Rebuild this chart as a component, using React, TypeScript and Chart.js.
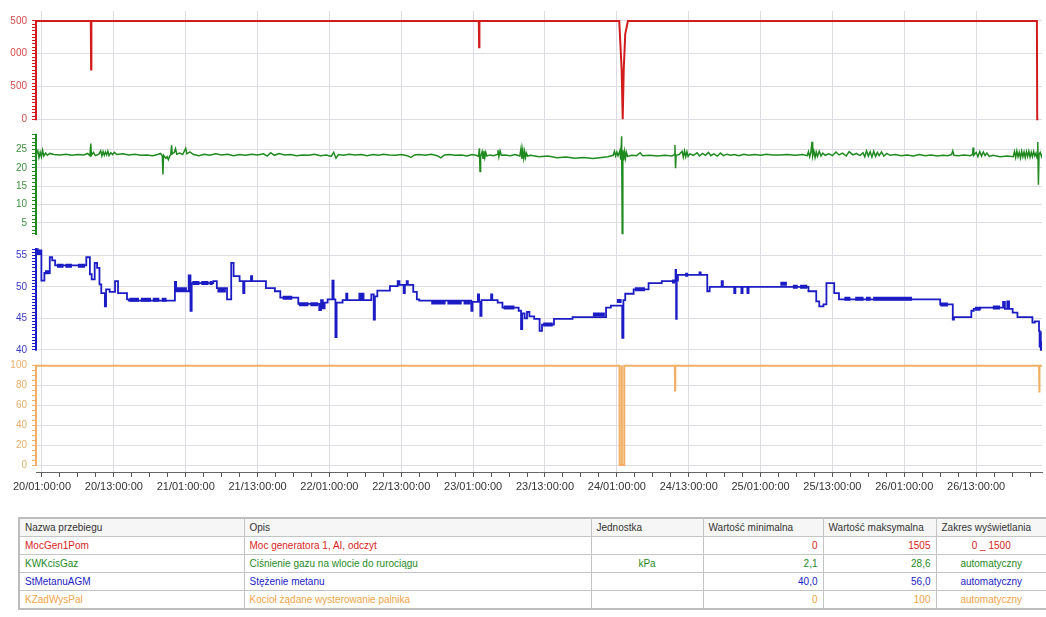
import React, { useEffect, useRef } from 'react';
import { Chart, registerables } from 'chart.js';

Chart.register(...registerables);

// ---------- time axis ----------
const FIRST_DAY = 20;
const TOTAL_HOURS = 168;
const majorTickHours = [1, 13, 25, 37, 49, 61, 73, 85, 97, 109, 121, 133, 145, 157];
const MINOR_STEP_H = 3;

// ---------- series (hour since 20/00:00, value) ----------
const redPoints: [number, number][] = [
  [0, 1500], [9.15, 1500], [9.2, 760], [9.25, 1500],
  [73.95, 1500], [74.0, 1100], [74.05, 1500],
  [97.4, 1500], [97.8, 760], [97.98, 0], [98.15, 760], [98.4, 1300], [98.85, 1500],
  [167.15, 1500], [167.2, 0], [167.4, 0],
];

const greenPoints: [number, number][] = [
  [0, 23.6], [0.3, 24.6], [0.5, 22.8], [0.7, 24.2], [0.9, 23.0], [1.1, 24.8], [1.3, 23.2], [1.6, 24.0], [1.9, 23.4], [2.3, 23.9],
  [3, 23.6], [4, 23.5], [5, 23.7], [6, 23.4], [7, 23.6], [8, 23.5], [8.6, 23.9], [9.0, 23.3], [9.15, 26.6], [9.25, 23.4], [9.6, 24.2], [9.9, 23.3],
  [10.5, 23.7], [10.8, 24.6], [11.0, 23.2], [11.2, 24.4], [11.4, 23.4], [11.6, 24.3], [11.8, 23.5], [12.0, 24.5], [12.2, 23.3], [12.5, 24.1], [12.8, 23.6], [13.1, 24.2], [13.5, 23.6],
  [14.5, 23.8], [15.5, 23.5], [16.5, 23.7], [17.5, 23.4], [18.5, 23.5], [19.5, 23.3], [20.3, 23.6], [20.8, 23.9], [21.1, 23.2], [21.2, 18.2], [21.3, 23.4], [21.7, 22.6], [21.9, 23.0], [22.1, 22.2], [22.3, 23.1], [22.5, 23.6], [22.65, 26.1], [22.75, 23.8],
  [23.1, 24.2], [23.3, 25.2], [23.5, 23.7], [24.0, 24.0], [24.5, 23.6], [25.0, 25.3], [25.2, 23.8], [25.7, 24.3], [26.3, 23.6],
  [27.2, 23.3], [28.1, 23.7], [29.0, 23.4], [30.0, 23.8], [31.0, 23.5], [32.0, 23.7], [33.0, 23.3], [34.0, 23.6], [35.0, 23.4], [36.0, 23.7], [37.0, 23.5], [38.0, 23.8], [38.6, 23.2], [39.2, 24.1], [39.8, 23.4], [40.6, 23.9],
  [41.5, 23.5], [42.5, 23.6], [43.5, 23.3], [44.5, 23.5], [45.5, 23.4], [46.5, 23.7], [47.5, 23.3], [48.5, 23.5], [49.3, 23.1], [49.7, 24.2], [50.1, 22.6], [50.5, 23.6], [51.3, 23.4], [52.3, 23.7], [53.3, 23.5], [54.3, 23.6], [55.3, 23.3], [56.3, 23.6],
  [57.2, 23.4], [58, 23.7], [59, 23.5], [60, 23.4], [61, 23.6], [62, 23.3], [62.6, 22.8], [63.2, 23.5], [64, 23.6], [65, 23.4], [66, 23.7], [67, 23.3], [67.6, 22.7], [68.2, 23.5], [69, 23.6], [70, 23.4], [71, 23.5], [72, 23.2], [72.8, 23.6], [73.5, 23.4],
  [73.9, 23.1], [74.05, 25.3], [74.15, 19.0], [74.25, 23.0], [74.5, 24.4], [74.65, 22.6], [74.8, 24.6], [74.95, 22.8], [75.1, 24.2], [75.3, 23.2], [75.8, 23.5], [76.4, 23.3], [77.0, 23.6], [77.15, 24.8], [77.3, 23.0], [77.5, 24.6], [77.7, 23.4],
  [78.3, 23.5], [79.2, 23.3], [80.0, 23.6], [80.8, 23.2], [81.0, 25.3], [81.15, 22.4], [81.3, 24.8], [81.45, 22.6], [81.6, 24.4], [81.75, 22.8], [81.9, 24.0], [82.1, 23.2], [82.6, 23.4],
  [84, 23.0], [85.5, 23.2], [87, 22.7], [88.5, 22.9], [90, 22.6], [91.5, 22.8], [93, 22.5], [94.5, 22.8], [95.5, 23.0], [96.4, 23.4], [96.6, 24.5], [96.8, 23.2], [97.0, 24.3], [97.2, 23.3],
  [97.5, 24.6], [97.65, 22.2], [97.8, 28.6], [97.9, 2.1], [98.0, 24.8], [98.15, 22.0], [98.3, 24.4], [98.45, 22.6], [98.6, 24.2], [98.8, 23.1],
  [99.5, 23.4], [100.3, 23.3], [100.9, 24.1], [101.3, 23.3], [102.5, 23.4], [103.8, 23.2], [105, 23.4], [106.2, 23.2], [106.6, 23.6], [106.7, 26.2], [106.8, 19.9], [106.9, 23.4],
  [107.4, 23.6], [107.9, 24.5], [108.1, 22.9], [108.3, 24.6], [108.5, 23.0], [108.7, 24.4], [108.9, 23.1], [109.2, 23.8], [109.8, 23.4], [110.4, 24.1], [110.8, 23.2], [111.3, 23.9], [111.8, 23.4], [112.3, 24.2], [112.7, 23.3], [113.2, 23.8], [113.8, 23.2], [114.3, 24.0], [114.8, 23.3], [115.4, 23.7], [116.0, 23.4],
  [116.6, 23.6], [117.4, 23.3], [118.2, 23.7], [119, 23.4], [120, 23.6], [121, 23.4], [122, 23.7], [123, 23.5], [124.3, 23.5], [125.5, 23.6], [126.8, 23.4], [128, 23.6], [128.8, 23.3],
  [129.0, 24.4], [129.2, 23.0], [129.4, 24.2], [129.6, 27.1], [129.7, 23.2], [129.9, 24.6], [130.1, 22.8], [130.3, 24.3], [130.5, 23.1], [130.8, 24.5], [131.1, 23.2], [131.4, 24.0], [131.8, 23.4],
  [132.4, 23.8], [133, 23.3], [133.6, 24.3], [134.1, 23.5], [134.7, 24.0], [135.3, 23.2], [135.8, 24.4], [136.4, 23.5], [137, 23.9], [137.6, 23.3],
  [138.1, 24.1], [138.4, 23.0], [138.7, 24.6], [139.0, 23.2], [139.3, 24.4], [139.6, 22.9], [139.9, 24.5], [140.2, 23.1], [140.5, 24.2], [140.8, 23.3], [141.2, 24.3], [141.6, 23.2], [142.1, 23.9], [142.6, 23.4],
  [143.5, 23.6], [144.5, 23.3], [145.5, 23.5], [146.5, 23.2], [147.5, 23.6], [148.5, 23.3], [149.5, 23.5], [150.5, 23.2], [151.5, 23.4], [152.3, 23.3], [152.9, 23.6], [153.1, 24.6], [153.3, 23.4],
  [154, 23.3], [155, 23.5], [156, 23.3], [156.4, 23.6], [156.5, 25.5], [156.6, 23.4], [157.0, 24.2], [157.3, 23.0], [157.6, 24.4], [157.9, 23.2], [158.2, 24.3], [158.5, 23.3], [158.8, 24.0], [159.2, 23.1], [159.8, 23.4],
  [161, 23.0], [162.2, 23.2], [163.2, 23.0], [163.4, 24.4], [163.6, 22.8], [163.8, 24.6], [164.0, 23.0], [164.2, 24.2], [164.4, 22.7], [164.6, 24.5], [164.8, 23.0], [165.0, 24.3], [165.2, 22.8], [165.4, 24.4], [165.6, 23.1], [165.8, 24.5], [166.0, 22.9], [166.2, 24.2], [166.4, 23.0], [166.6, 24.4], [166.8, 23.2], [167.0, 24.0],
  [167.2, 22.5], [167.3, 27.0], [167.4, 15.4], [167.5, 23.6], [167.7, 24.2], [167.9, 23.1], [168, 23.8],
];

// methane concentration, sample-and-hold (value holds until next point)
const bluePoints: [number, number][] = [
  [0, 56.0], [0.3, 55.2], [0.6, 55.8], [0.9, 51.0], [1.4, 52.2], [2.3, 54.7], [2.7, 54.2], [3.2, 53.4], [8.4, 54.7], [9.0, 52.0], [9.3, 51.2], [9.8, 53.8], [10.2, 53.0], [10.6, 50.4], [10.9, 49.0], [11.5, 46.9], [11.7, 49.6], [12.3, 49.2], [13.2, 50.9], [13.7, 49.0], [15.2, 48.0], [15.5, 47.8],
  [23.2, 50.8], [23.4, 49.3], [25.5, 51.8], [25.8, 46.2], [26.0, 50.6], [29.6, 50.9], [30.2, 49.8], [31.9, 48.0], [32.6, 53.8], [33.0, 51.7], [34.0, 50.9], [34.6, 49.0], [34.8, 50.9], [35.9, 51.7], [36.1, 50.9],
  [38.4, 49.8], [39.9, 49.3], [40.8, 48.3], [43.8, 47.3], [47.3, 46.3], [47.6, 47.9], [47.9, 46.6], [48.2, 47.5], [48.7, 48.0], [49.5, 51.0], [49.7, 48.0], [50.0, 42.0], [50.2, 47.5], [51.2, 47.9], [51.8, 48.9], [52.0, 47.9], [54.0, 48.9], [54.2, 47.9], [54.5, 48.9], [54.7, 47.9],
  [56.0, 48.8], [56.4, 44.8], [56.6, 48.5], [57.0, 49.4], [59.1, 50.1], [60.4, 50.9], [60.7, 50.3], [61.4, 49.0], [61.6, 50.3], [61.9, 50.9], [62.1, 50.3], [63.0, 49.2], [63.6, 48.0], [64.0, 47.8],
  [72.7, 46.2], [72.9, 47.6], [73.8, 48.8], [74.0, 47.6], [74.2, 45.4], [74.4, 47.9], [76.0, 48.8], [76.2, 47.9], [77.1, 47.5], [77.9, 46.7], [80.6, 46.2], [81.0, 43.3], [81.2, 45.8], [81.6, 45.0], [82.0, 46.0], [82.4, 45.3], [83.2, 44.9], [84.1, 43.0], [84.5, 44.0], [86.5, 44.9], [89.6, 45.2],
  [95.2, 46.7], [96.0, 47.0], [97.9, 41.9], [98.1, 47.9], [98.4, 48.9], [99.8, 49.6], [102.3, 50.6], [104.5, 50.9], [106.8, 52.7], [106.9, 44.9], [107.0, 51.0], [107.2, 51.9], [110.8, 52.3], [111.0, 51.9], [112.1, 49.3], [112.5, 50.0],
  [114.5, 50.9], [114.7, 50.0], [116.6, 49.0], [116.8, 50.0], [117.8, 49.0], [118.0, 50.0], [118.8, 49.0], [119.0, 50.0], [129.0, 49.3], [130.3, 47.7], [130.8, 46.9], [131.5, 47.2], [132.0, 50.6], [133.3, 49.0], [134.1, 48.0],
  [151.0, 47.2], [153.1, 44.8], [153.3, 45.2], [156.2, 46.2], [156.6, 46.5], [157.7, 46.7], [161.5, 47.6], [161.8, 46.5], [162.2, 47.7], [162.5, 46.5], [163.1, 45.9], [163.9, 45.2], [166.4, 44.3], [166.8, 44.5],
  [167.5, 43.0], [167.6, 40.5], [167.7, 42.8], [167.8, 40.0], [167.9, 41.2], [168, 41.2],
];

// stretches where the methane reading flickers rapidly between two adjacent levels: [from h, to h, mid level]
const blueFlickerBands: [number, number, number][] = [
  [0.1, 0.8, 55.4], [1.5, 2.25, 52.3], [3.5, 4.6, 53.35], [4.9, 6.0, 53.35], [7.0, 8.2, 53.35],
  [15.6, 17.2, 47.95], [17.5, 19.2, 47.95], [19.5, 20.6, 47.95], [21.0, 21.8, 47.95], [23.4, 25.2, 49.6],
  [26.1, 27.3, 50.6], [27.6, 28.8, 50.6], [29.0, 29.5, 50.6], [30.3, 31.7, 49.4], [41.2, 42.8, 48.25],
  [43.9, 45.5, 47.25], [45.8, 47.1, 47.25], [66.0, 68.4, 47.5], [68.7, 71.1, 47.5], [71.4, 72.6, 47.5],
  [78.1, 79.9, 46.7], [84.7, 86.3, 44.0], [93.0, 95.0, 45.6], [97.0, 97.8, 47.75], [100.0, 101.7, 49.6],
  [106.2, 106.75, 50.85], [108.4, 108.9, 51.9], [124.3, 125.4, 50.5], [126.4, 127.2, 50.0], [127.6, 128.8, 50.0],
  [135.0, 136.0, 48.1], [136.8, 138.2, 48.1], [138.6, 139.4, 48.1], [139.8, 146.3, 48.1], [151.0, 152.3, 47.2],
  [156.8, 157.7, 46.5], [159.8, 161.0, 46.7],
];

const orangePoints: [number, number][] = [
  [0, 100], [97.44, 100], [97.47, 0], [97.78, 0], [97.82, 100], [97.86, 0], [98.2, 0], [98.24, 100],
  [106.68, 100], [106.72, 75], [106.76, 100], [167.5, 100], [167.55, 73], [167.6, 100], [168, 100],
];

// ---------- table ----------
const tableHeaders = ['Nazwa przebiegu', 'Opis', 'Jednostka', 'Wartość minimalna', 'Wartość maksymalna', 'Zakres wyświetlania'];
const seriesNames = ['MocGen1Pom', 'KWKcisGaz', 'StMetanuAGM', 'KZadWysPal'];
const seriesDescriptions = ['Moc generatora 1, AI, odczyt', 'Ciśnienie gazu na wlocie do rurociągu', 'Stężenie metanu', 'Kocioł żądane wysterowanie palnika'];
const seriesUnits = ['', 'kPa', '', ''];
const seriesMin = ['0', '2,1', '40,0', '0'];
const seriesMax = ['1505', '28,6', '56,0', '100'];
const seriesRange = ['0 _ 1500', 'automatyczny', 'automatyczny', 'automatyczny'];
const seriesColors = ['#d81e1e', '#1f8a1f', '#1c1cc4', '#f0a448'];

// ---------- panel axes ----------
type Panel = {
  id: string; line: string; label: string; min: number; max: number;
  from: number; to: number; step: number; major: number; order: number;
};
const panels: Panel[] = [
  { id: 'yRed', line: '#d21c1c', label: '#d24c4c', min: -106, max: 1651.6, from: 0, to: 1500, step: 50, major: 500, order: 4 },
  { id: 'yGreen', line: '#1f8a1f', label: '#3f8f3f', min: -0.063, max: 31.3, from: 2, to: 29, step: 1, major: 5, order: 3 },
  { id: 'yBlue', line: '#1c1cc4', label: '#3a3ac4', min: 38.895, max: 57.2, from: 40, to: 56, step: 0.5, major: 5, order: 2 },
  { id: 'yOrange', line: '#f2b066', label: '#e9ad6a', min: -7, max: 109, from: 0, to: 100, step: 5, major: 20, order: 1 },
];

const GRID = '#dcdce2';
const isMultiple = (v: number, m: number) => Math.abs(v / m - Math.round(v / m)) < 1e-6;
const pad2 = (n: number) => (n < 10 ? '0' + n : '' + n);
const fmtHour = (h: number) => `${FIRST_DAY + Math.floor(h / 24)}/${pad2(h % 24)}:00:00`;
const isMajorHour = (h: number) => majorTickHours.includes(h);

const toXY = (pts: [number, number][]) => pts.map(([x, y]) => ({ x, y }));
const bandsToXY = (bands: [number, number, number][]) => {
  const out: { x: number; y: number | null }[] = [];
  bands.forEach(([a, b, v]) => {
    out.push({ x: a, y: v }, { x: b, y: v }, { x: b, y: null });
  });
  return out;
};

const panelAxisLines = {
  id: 'panelAxisLines',
  afterDraw(chart: any) {
    const ctx = chart.ctx;
    panels.forEach((p) => {
      const s = chart.scales[p.id];
      if (!s) return;
      ctx.save();
      ctx.strokeStyle = p.line;
      ctx.lineWidth = 2;
      ctx.beginPath();
      ctx.moveTo(s.right, s.getPixelForValue(p.from) + 1);
      ctx.lineTo(s.right, s.getPixelForValue(p.to) - 1);
      ctx.stroke();
      ctx.restore();
    });
  },
};

function panelScale(p: Panel) {
  const values: number[] = [];
  for (let i = 0; p.from + i * p.step <= p.to + 1e-9; i++) values.push(+(p.from + i * p.step).toFixed(3));
  return {
    type: 'linear',
    position: 'left',
    stack: 'panels',
    stackWeight: 1,
    weight: p.order,
    min: p.min,
    max: p.max,
    border: { display: false },
    grid: {
      color: (c: any) => (c.tick && isMultiple(c.tick.value, p.major) ? GRID : 'rgba(0,0,0,0)'),
      tickColor: p.line,
      tickLength: 4,
      lineWidth: 1,
    },
    ticks: {
      autoSkip: false,
      padding: 5,
      color: p.label,
      font: { family: '"Liberation Sans", Arial, sans-serif', size: 10 },
      callback: (v: any) => (isMultiple(Number(v), p.major) ? String(v) : ''),
    },
    afterBuildTicks: (s: any) => {
      s.ticks = values.map((value) => ({ value }));
    },
    afterFit: (s: any) => {
      s.width = 36;
    },
  };
}

function TrendChart() {
  const ref = useRef<HTMLCanvasElement | null>(null);
  useEffect(() => {
    if (!ref.current) return;
    const xTicks: number[] = [];
    for (let h = majorTickHours[0]; h <= TOTAL_HOURS; h += MINOR_STEP_H) xTicks.push(h);

    const scales: any = {
      x: {
        type: 'linear',
        position: 'bottom',
        min: 0,
        max: TOTAL_HOURS,
        border: { display: true, color: '#666', width: 1 },
        grid: {
          color: (c: any) => (c.tick && isMajorHour(c.tick.value) ? GRID : 'rgba(0,0,0,0)'),
          tickColor: '#555',
          tickLength: 5,
        },
        ticks: {
          autoSkip: false,
          maxRotation: 0,
          padding: 3,
          color: '#333',
          font: { family: '"Liberation Sans", Arial, sans-serif', size: 11 },
          callback: (v: any) => (isMajorHour(Number(v)) ? fmtHour(Number(v)) : ''),
        },
        afterBuildTicks: (s: any) => {
          s.ticks = xTicks.map((value) => ({ value }));
        },
        afterFit: (s: any) => {
          s.height = 28;
        },
      },
    };
    panels.forEach((p) => (scales[p.id] = panelScale(p)));

    const common = { pointRadius: 0, tension: 0, fill: false, spanGaps: false };
    const chart = new Chart(ref.current, {
      type: 'line',
      data: {
        datasets: [
          { ...common, label: seriesNames[0], data: toXY(redPoints), yAxisID: 'yRed', borderColor: '#d21c1c', borderWidth: 2 },
          { ...common, label: seriesNames[1], data: toXY(greenPoints), yAxisID: 'yGreen', borderColor: '#1f8a1f', borderWidth: 1.5 },
          { ...common, label: seriesNames[2], data: toXY(bluePoints), yAxisID: 'yBlue', borderColor: '#1c1cc4', borderWidth: 1.8, stepped: true },
          { ...common, label: seriesNames[2] + ' (flicker)', data: bandsToXY(blueFlickerBands), yAxisID: 'yBlue', borderColor: '#1c1cc4', borderWidth: 4, borderCapStyle: 'butt' },
          { ...common, label: seriesNames[3], data: toXY(orangePoints), yAxisID: 'yOrange', borderColor: '#f2b066', borderWidth: 2 },
        ] as any,
      },
      options: {
        responsive: false,
        animation: false,
        devicePixelRatio: 1,
        events: [],
        layout: { padding: { top: 8, right: 4, left: 0, bottom: 0 } },
        plugins: { legend: { display: false }, tooltip: { enabled: false } },
        scales,
      } as any,
      plugins: [panelAxisLines],
    });
    return () => chart.destroy();
  }, []);

  return (
    <div style={{ position: 'absolute', left: 10, top: 0, width: 1036, height: 500, overflow: 'hidden' }}>
      <canvas ref={ref} width={1046} height={500} style={{ position: 'absolute', left: -10, top: 0 }} />
    </div>
  );
}

const colWidths = [225, 347, 112, 120, 113, 111];

export default function App() {
  const cell: React.CSSProperties = {
    border: '1px solid #c4c4c4',
    padding: '0 5px',
    height: 17,
    whiteSpace: 'nowrap',
    overflow: 'hidden',
  };
  return (
    <div style={{ position: 'absolute', left: 0, top: 0, width: 1046, height: 617, background: '#fff' }}>
      <TrendChart />
      <table
        style={{
          position: 'absolute', left: 18, top: 517, width: 1028, borderCollapse: 'collapse', tableLayout: 'fixed',
          fontFamily: '"Liberation Sans", Arial, sans-serif', fontSize: 10, border: '2px solid #bdbdbd',
        }}
      >
        <colgroup>
          {colWidths.map((w, i) => <col key={i} style={{ width: w }} />)}
        </colgroup>
        <thead>
          <tr style={{ background: '#f6f6f6' }}>
            {tableHeaders.map((h) => (
              <td key={h} style={{ ...cell, color: '#333', textAlign: 'left' }}>{h}</td>
            ))}
          </tr>
        </thead>
        <tbody>
          {seriesNames.map((name, i) => (
            <tr key={name} style={{ color: seriesColors[i] }}>
              <td style={cell}>{name}</td>
              <td style={cell}>{seriesDescriptions[i]}</td>
              <td style={{ ...cell, textAlign: 'center' }}>{seriesUnits[i]}</td>
              <td style={{ ...cell, textAlign: 'right' }}>{seriesMin[i]}</td>
              <td style={{ ...cell, textAlign: 'right' }}>{seriesMax[i]}</td>
              <td style={{ ...cell, textAlign: 'center' }}>{seriesRange[i]}</td>
            </tr>
          ))}
        </tbody>
      </table>
    </div>
  );
}
